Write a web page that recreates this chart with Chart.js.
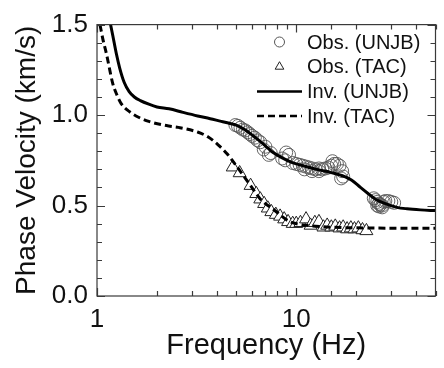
<!DOCTYPE html>
<html>
<head>
<meta charset="utf-8">
<script src="https://cdn.jsdelivr.net/npm/chart.js@4.4.1/dist/chart.umd.min.js"></script>
<style>
  html, body { margin: 0; padding: 0; background: #fff; }
  canvas { display: block; }
</style>
</head>
<body>
<canvas id="c" width="444" height="368"></canvas>
<script>
'use strict';

// frequency (Hz) / phase velocity (km/s)
var obsUnjbFreq = [4.95, 5.1, 5.25, 5.4, 5.55, 5.7, 5.85, 6.0, 6.2, 6.4, 6.6, 6.87, 7.0, 7.28, 7.45,
  8.9, 9.2, 8.5, 8.8, 9.6, 10.0, 10.4, 10.8, 11.2, 11.6, 12.0, 12.5, 13.0, 13.5, 14.0, 14.5,
  11.0, 12.0, 13.0, 15.0, 15.5, 16.0, 16.5, 17.0, 17.2, 16.8, 15.2,
  24.5, 25.0, 25.5, 26.0, 26.5, 27.0, 27.5, 28.0, 29.0, 30.0, 31.0, 25.5, 26.0, 27.0];
var obsUnjbVel = [0.945, 0.94, 0.93, 0.92, 0.915, 0.905, 0.895, 0.885, 0.875, 0.86, 0.85, 0.81, 0.825, 0.78, 0.79,
  0.793, 0.78, 0.76, 0.75, 0.735, 0.73, 0.725, 0.72, 0.715, 0.71, 0.705, 0.70, 0.705, 0.70, 0.705, 0.71,
  0.70, 0.69, 0.69, 0.72, 0.73, 0.73, 0.72, 0.69, 0.66, 0.65, 0.745,
  0.54, 0.53, 0.52, 0.51, 0.505, 0.50, 0.52, 0.525, 0.525, 0.52, 0.515, 0.50, 0.495, 0.49];

var obsTacFreq = [4.8, 5.2, 5.9, 6.3, 6.6, 6.9, 7.2, 7.5, 7.9, 8.3, 8.7, 9.1, 9.6, 10.0, 10.5, 11.2,
  11.8, 12.4, 13.0, 13.7, 14.3, 15.0, 15.7, 16.5, 17.2, 18.0, 18.8, 19.6, 20.5, 21.5, 22.5];
var obsTacVel = [0.712, 0.68, 0.61, 0.565, 0.535, 0.51, 0.485, 0.465, 0.45, 0.44, 0.425, 0.41, 0.40, 0.40, 0.405, 0.425,
  0.39, 0.405, 0.41, 0.38, 0.39, 0.38, 0.385, 0.375, 0.38, 0.37, 0.375, 0.37, 0.375, 0.365, 0.36];

var invUnjbFreq = [1.17, 1.2, 1.25, 1.3, 1.37, 1.45, 1.54, 1.65, 1.82, 2.0, 2.3, 2.7, 3.2, 3.7, 4.2, 4.6,
  5.0, 5.5, 6.0, 6.5, 7.0, 7.5, 8.0, 9.0, 10, 11.5, 13, 15, 17.5, 19, 21, 23, 25, 28, 32, 36, 42, 50];
var invUnjbVel = [1.5, 1.44, 1.34, 1.26, 1.18, 1.13, 1.10, 1.08, 1.06, 1.045, 1.035, 1.015, 0.995, 0.98, 0.965, 0.955,
  0.945, 0.92, 0.89, 0.86, 0.83, 0.80, 0.78, 0.75, 0.73, 0.712, 0.697, 0.682, 0.66, 0.64, 0.60, 0.565, 0.535, 0.51, 0.49, 0.482, 0.476, 0.472];

var invTacFreq = [1.035, 1.07, 1.116, 1.2, 1.26, 1.32, 1.45, 1.57, 1.82, 2.29, 2.56, 3.22, 3.6, 4.04, 4.52,
  5.06, 5.87, 6.58, 7.69, 9.2, 10.3, 12.5, 15, 20, 30, 50];
var invTacVel = [1.5, 1.42, 1.337, 1.174, 1.11, 1.065, 1.02, 0.995, 0.965, 0.94, 0.932, 0.905, 0.88, 0.837, 0.783,
  0.712, 0.614, 0.538, 0.478, 0.413, 0.397, 0.386, 0.38, 0.377, 0.375, 0.375];

var xTickLabels = [1, 10];
var yTickLabels = [0, 0.5, 1.0, 1.5];

var FONT = "'Liberation Sans', Arial, sans-serif";
var INK = '#111';
var AXIS = '#3a3a3a';

function pairs(xs, ys) {
  return xs.map(function(x, i) { return {x: x, y: ys[i]}; });
}

function isLabelled(list, v) {
  return list.some(function(t) { return Math.abs(t - v) < 1e-6; });
}

// box round the plot with inward ticks on all four sides
var frameTicks = {
  id: 'frameTicks',
  afterDraw: function(chart) {
    var ctx = chart.ctx, a = chart.chartArea;
    var xs = chart.scales.x, ys = chart.scales.y;
    ctx.save();
    ctx.strokeStyle = AXIS;
    ctx.lineWidth = 1.2;
    ctx.strokeRect(a.left, a.top, a.right - a.left, a.bottom - a.top);
    ctx.beginPath();
    xs.ticks.forEach(function(t) {
      var px = Math.round(xs.getPixelForValue(t.value)) + 0.5;
      var len = isLabelled(xTickLabels, t.value) ? 8 : 5;
      ctx.moveTo(px, a.bottom); ctx.lineTo(px, a.bottom - len);
      ctx.moveTo(px, a.top); ctx.lineTo(px, a.top + len);
    });
    ys.ticks.forEach(function(t) {
      var py = Math.round(ys.getPixelForValue(t.value)) + 0.5;
      var len = isLabelled(yTickLabels, t.value) ? 8 : 5;
      ctx.moveTo(a.left, py); ctx.lineTo(a.left + len, py);
      ctx.moveTo(a.right, py); ctx.lineTo(a.right - len, py);
    });
    ctx.stroke();
    ctx.restore();
  }
};

// legend sits inside the plot, top right
var innerLegend = {
  id: 'innerLegend',
  afterDraw: function(chart) {
    var ctx = chart.ctx;
    var x0 = 257, x1 = 302, tx = 307, y0 = 42, step = 24.7;
    ctx.save();
    ctx.font = '20px ' + FONT;
    ctx.fillStyle = INK;
    ctx.textBaseline = 'middle';
    chart.data.datasets.forEach(function(ds, i) {
      var y = y0 + i * step;
      if (ds.showLine) {
        ctx.save();
        ctx.strokeStyle = ds.borderColor;
        ctx.lineWidth = 2.5;
        ctx.setLineDash(ds.borderDash || []);
        ctx.beginPath();
        ctx.moveTo(x0, y); ctx.lineTo(x1, y);
        ctx.stroke();
        ctx.restore();
      } else {
        ctx.save();
        ctx.strokeStyle = ds.borderColor;
        ctx.fillStyle = '#fff';
        ctx.lineWidth = 1;
        Chart.helpers.drawPoint(ctx, {pointStyle: ds.pointStyle, radius: 5, rotation: 0, borderWidth: 1},
          (x0 + x1) / 2, y);
        ctx.restore();
      }
      ctx.fillText(ds.label, tx, y + 1);
    });
    ctx.restore();
  }
};

new Chart(document.getElementById('c'), {
  type: 'scatter',
  data: {
    datasets: [
      {
        label: 'Obs. (UNJB)', data: pairs(obsUnjbFreq, obsUnjbVel),
        pointStyle: 'circle', pointRadius: 6.5, borderColor: '#555', backgroundColor: 'rgba(0,0,0,0)',
        borderWidth: 0.9, showLine: false, order: 3
      },
      {
        label: 'Obs. (TAC)', data: pairs(obsTacFreq, obsTacVel),
        pointStyle: 'triangle', pointRadius: 7.5, borderColor: '#222', backgroundColor: '#fff',
        borderWidth: 1, showLine: false, order: 4
      },
      {
        label: 'Inv. (UNJB)', data: pairs(invUnjbFreq, invUnjbVel),
        borderColor: '#000', borderWidth: 3, pointRadius: 0, showLine: true,
        cubicInterpolationMode: 'monotone', order: 1
      },
      {
        label: 'Inv. (TAC)', data: pairs(invTacFreq, invTacVel),
        borderColor: '#000', borderWidth: 3, borderDash: [7, 4], pointRadius: 0, showLine: true,
        cubicInterpolationMode: 'monotone', order: 2
      }
    ]
  },
  options: {
    responsive: false,
    animation: false,
    events: [],
    clip: true,
    layout: {padding: {top: 20, right: 2, left: 0, bottom: 0}},
    plugins: {legend: {display: false}, tooltip: {enabled: false}},
    scales: {
      x: {
        type: 'logarithmic', min: 1, max: 50,
        afterFit: function(s) { s.height = 72; },
        grid: {display: false, drawTicks: false},
        border: {display: false},
        ticks: {
          autoSkip: false, maxRotation: 0, padding: 8, color: INK,
          font: {family: FONT, size: 26},
          callback: function(v) { return isLabelled(xTickLabels, v) ? String(v) : ''; }
        },
        title: {display: true, text: 'Frequency (Hz)', color: INK,
          font: {family: FONT, size: 29}, padding: {top: 0, bottom: 5}}
      },
      y: {
        min: 0, max: 1.5,
        afterFit: function(s) { s.width = 97; },
        grid: {display: false, drawTicks: false},
        border: {display: false},
        ticks: {
          stepSize: 0.1, autoSkip: false, padding: 9, color: INK,
          font: {family: FONT, size: 26},
          callback: function(v) { return isLabelled(yTickLabels, v) ? v.toFixed(1) : ''; }
        },
        title: {display: true, text: 'Phase Velocity (km/s)', color: INK,
          font: {family: FONT, size: 28}, padding: {top: 10, bottom: 0}}
      }
    }
  },
  plugins: [frameTicks, innerLegend]
});
</script>
</body>
</html>
